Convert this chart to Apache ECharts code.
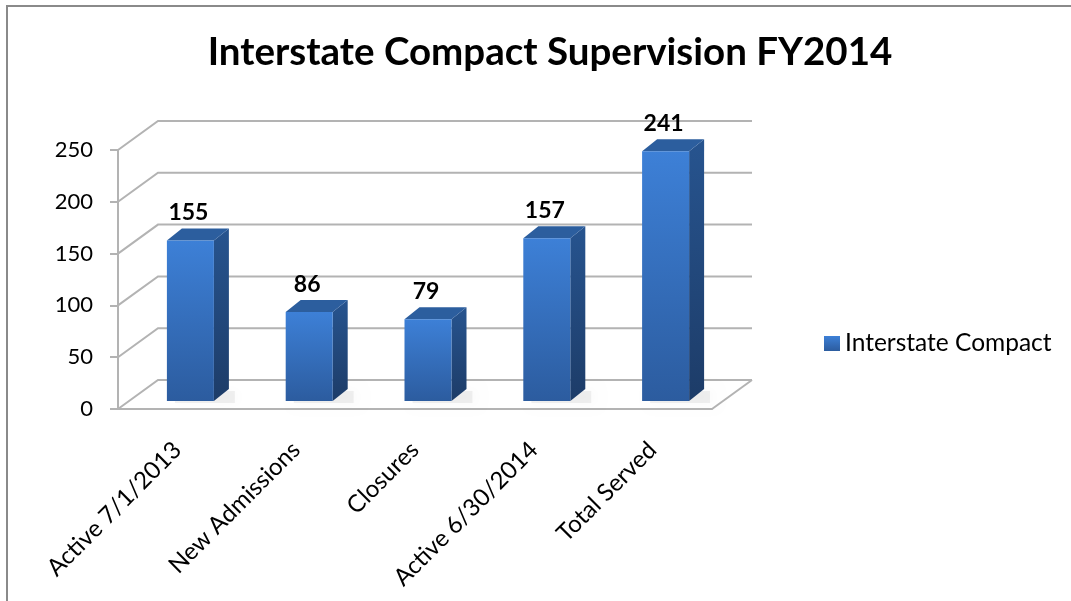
<!DOCTYPE html>
<html>
<head>
<meta charset="utf-8">
<script src="https://cdn.jsdelivr.net/npm/echarts@6/dist/echarts.min.js"></script>
<style>
  html, body { margin: 0; padding: 0; background: #fff; }
  #chart { width: 1071px; height: 601px; }
</style>
</head>
<body>
<div id="chart"></div>
<script>
var categories = ['Active 7/1/2013', 'New Admissions', 'Closures', 'Active 6/30/2014', 'Total Served'];
var seriesName = 'Interstate Compact';
var values = [155, 86, 79, 157, 241];
var yTicks = [0, 50, 100, 150, 200, 250];

// fake 3d: back wall offset, bar plane offset, bar depth
var WALL_DX = 40, WALL_DY = -29;
var BAR_DX = 13, BAR_DY = -8;
var DEPTH_X = 15, DEPTH_Y = -12;
var BAR_W = 47;
var GRID_COLOR = '#b3b3b3';

var myChart = echarts.init(document.getElementById('chart'));

var frontColor = new echarts.graphic.LinearGradient(0, 0, 0, 1, [
    { offset: 0, color: '#3d80d7' },
    { offset: 1, color: '#2c5c9f' }
]);
var sideColor = new echarts.graphic.LinearGradient(0, 0, 0, 1, [
    { offset: 0, color: '#27548f' },
    { offset: 1, color: '#1d3c68' }
]);

function renderWall(params, api) {
    var cs = params.coordSys;
    var y = api.coord([0, api.value(1)])[1];
    var left = cs.x, right = cs.x + cs.width;
    var children = [{
        type: 'polyline',
        shape: { points: [[left, y], [left + WALL_DX, y + WALL_DY], [right + WALL_DX, y + WALL_DY]] },
        style: { stroke: GRID_COLOR, lineWidth: 2, fill: null }
    }];
    if (api.value(1) === 0) {
        children.push({
            type: 'line',
            shape: { x1: right, y1: y, x2: right + WALL_DX, y2: y + WALL_DY },
            style: { stroke: GRID_COLOR, lineWidth: 2 }
        });
    }
    return { type: 'group', children: children };
}

function renderBar(params, api) {
    var base = api.coord([api.value(0), 0]);
    var top = api.coord([api.value(0), api.value(1)]);
    var x0 = base[0] + BAR_DX - BAR_W / 2;
    var x1 = x0 + BAR_W;
    var yb = base[1] + BAR_DY;
    var yt = top[1] + BAR_DY;
    return {
        type: 'group',
        children: [
            {
                // soft shadow on the floor
                type: 'rect',
                shape: { x: x0 + 8, y: yb + DEPTH_Y + 2, width: BAR_W + DEPTH_X - 2, height: -DEPTH_Y },
                style: { fill: 'rgba(0,0,0,0.06)', shadowBlur: 12, shadowColor: 'rgba(0,0,0,0.4)', shadowOffsetX: 3 }
            },
            {
                type: 'polygon',
                shape: { points: [[x1, yb], [x1, yt], [x1 + DEPTH_X, yt + DEPTH_Y], [x1 + DEPTH_X, yb + DEPTH_Y]] },
                style: { fill: sideColor }
            },
            {
                type: 'polygon',
                shape: { points: [[x0, yt], [x1, yt], [x1 + DEPTH_X, yt + DEPTH_Y], [x0 + DEPTH_X, yt + DEPTH_Y]] },
                style: { fill: '#2c5e9e' }
            },
            {
                type: 'rect',
                shape: { x: x0, y: yt, width: BAR_W, height: yb - yt },
                style: { fill: frontColor }
            },
            {
                type: 'text',
                style: {
                    x: x0 + BAR_W / 2 - 2, y: yt - 16,
                    text: String(api.value(1)),
                    align: 'center', verticalAlign: 'bottom',
                    fill: '#000', font: 'bold 23px Lato'
                }
            }
        ]
    };
}

var option = {
    animation: false,
    title: {
        text: 'Interstate Compact Supervision FY2014',
        left: 545,
        top: 28,
        textAlign: 'center',
        textStyle: { fontFamily: 'Lato', fontWeight: 'bold', fontSize: 38.5, color: '#000' }
    },
    legend: {
        data: [{ name: seriesName, icon: 'rect' }],
        left: 824,
        top: 331,
        padding: 0,
        itemWidth: 16,
        itemHeight: 15,
        textStyle: { fontFamily: 'Lato', fontSize: 24.5, color: '#000' }
    },
    grid: { left: 118, right: 359, top: 150, bottom: 192 },
    xAxis: {
        type: 'category',
        data: categories,
        boundaryGap: true,
        axisLine: { lineStyle: { color: GRID_COLOR, width: 2 } },
        axisTick: { length: 6, lineStyle: { color: GRID_COLOR, width: 2 } },
        axisLabel: { rotate: 45, margin: 37, fontFamily: 'Lato', fontSize: 24, color: '#000' }
    },
    yAxis: {
        type: 'value',
        min: 0,
        max: 250,
        interval: 50,
        axisLine: { show: true, lineStyle: { color: GRID_COLOR, width: 2 } },
        axisTick: { show: true, length: 8, lineStyle: { color: GRID_COLOR, width: 2 } },
        axisLabel: { margin: 25, fontFamily: 'Lato', fontSize: 22, color: '#000' },
        splitLine: { show: false }
    },
    series: [
        {
            type: 'custom',
            silent: true,
            clip: false,
            z: 1,
            renderItem: renderWall,
            data: yTicks.map(function (v) { return [0, v]; })
        },
        {
            name: seriesName,
            type: 'custom',
            clip: false,
            z: 3,
            itemStyle: { color: frontColor },
            renderItem: renderBar,
            data: values.map(function (v, i) { return [i, v]; })
        }
    ],
    graphic: [{
        type: 'polyline',
        shape: { points: [[7, 601], [7, 6], [1071, 6]] },
        style: { stroke: '#8a8a8a', lineWidth: 2, fill: null }
    }]
};

myChart.setOption(option);
</script>
</body>
</html>
